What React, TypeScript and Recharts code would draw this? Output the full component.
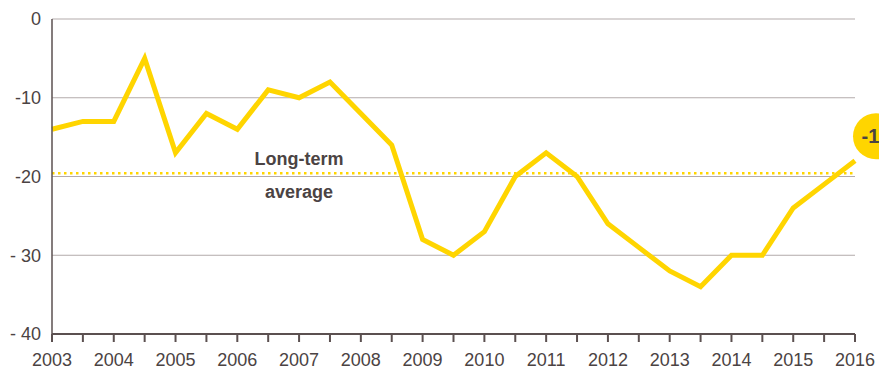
import React from 'react';
import { LineChart, Line, XAxis, YAxis, CartesianGrid, ReferenceLine, ReferenceDot } from 'recharts';

const periods = [2003, 2003.5, 2004, 2004.5, 2005, 2005.5, 2006, 2006.5, 2007, 2007.5, 2008, 2008.5, 2009, 2009.5, 2010, 2010.5, 2011, 2011.5, 2012, 2012.5, 2013, 2013.5, 2014, 2014.5, 2015, 2015.5, 2016];
const balance = [-14, -13, -13, -5, -17, -12, -14, -9, -10, -8, -12, -16, -28, -30, -27, -20, -17, -20, -26, -29, -32, -34, -30, -30, -24, -21, -18];
const yTicks = [0, -10, -20, -30, -40];
const yTickLabels = ['0', '-10', '-20', '- 30', '- 40'];
const xTicks = [2003, 2003.5, 2004, 2004.5, 2005, 2005.5, 2006, 2006.5, 2007, 2007.5, 2008, 2008.5, 2009, 2009.5, 2010, 2010.5, 2011, 2011.5, 2012, 2012.5, 2013, 2013.5, 2014, 2014.5, 2015, 2015.5, 2016];
const longTermAverage = -19.6;
const latestLabel = '-18';
const avgLabelLines = ['Long-term', 'average'];

const data = periods.map((p, i) => ({ period: p, value: balance[i] }));

const YELLOW = '#FFD500';
const TEXT = '#4b4343';
const AXIS = '#5b5050';
const FONT = 'Liberation Sans, Arial, sans-serif';

export default function App() {
  return (
    <div style={{ position: 'absolute', left: 0, top: 0 }}>
      <LineChart width={879} height={369} data={data} margin={{ top: 19, right: 24, bottom: 0, left: 0 }}>
        <CartesianGrid vertical={false} stroke="#b3abab" strokeWidth={1} />
        <XAxis
          dataKey="period"
          type="number"
          domain={[2003, 2016]}
          ticks={xTicks}
          interval={0}
          height={35}
          tickSize={8}
          tickMargin={11}
          tickFormatter={(v: number) => (Number.isInteger(v) ? String(v) : '')}
          stroke={AXIS}
          strokeWidth={2}
          tick={{ fill: TEXT, fontSize: 18, fontFamily: FONT }}
        />
        <YAxis
          type="number"
          domain={[-40, 0]}
          ticks={yTicks}
          interval={0}
          width={52}
          tickLine={false}
          tickSize={9}
          tickMargin={2}
          tickFormatter={(v: number) => yTickLabels[yTicks.indexOf(v)]}
          stroke={AXIS}
          strokeWidth={1.5}
          tick={{ fill: TEXT, fontSize: 18, fontFamily: FONT }}
        />
        <ReferenceLine y={longTermAverage} stroke={YELLOW} strokeWidth={2.5} strokeDasharray="2.5 3.5" ifOverflow="visible" />
        <ReferenceDot
          x={2007.0}
          y={longTermAverage}
          ifOverflow="visible"
          shape={(props: any) => (
            <g>
              <text x={props.cx} y={props.cy - 8} textAnchor="middle" fill={TEXT} fontSize={18} fontWeight="bold" fontFamily={FONT}>{avgLabelLines[0]}</text>
              <text x={props.cx} y={props.cy + 25} textAnchor="middle" fill={TEXT} fontSize={18} fontWeight="bold" fontFamily={FONT}>{avgLabelLines[1]}</text>
            </g>
          )}
        />
        <Line type="linear" dataKey="value" stroke={YELLOW} strokeWidth={5} dot={false} isAnimationActive={false} />
        <ReferenceDot
          x={2016.34}
          y={-14.9}
          ifOverflow="visible"
          shape={(props: any) => (
            <g>
              <circle cx={props.cx} cy={props.cy} r={23} fill={YELLOW} />
              <text x={props.cx} y={props.cy + 7} textAnchor="middle" fill={TEXT} fontSize={20} fontWeight="bold" fontFamily={FONT}>{latestLabel}</text>
            </g>
          )}
        />
      </LineChart>
    </div>
  );
}
